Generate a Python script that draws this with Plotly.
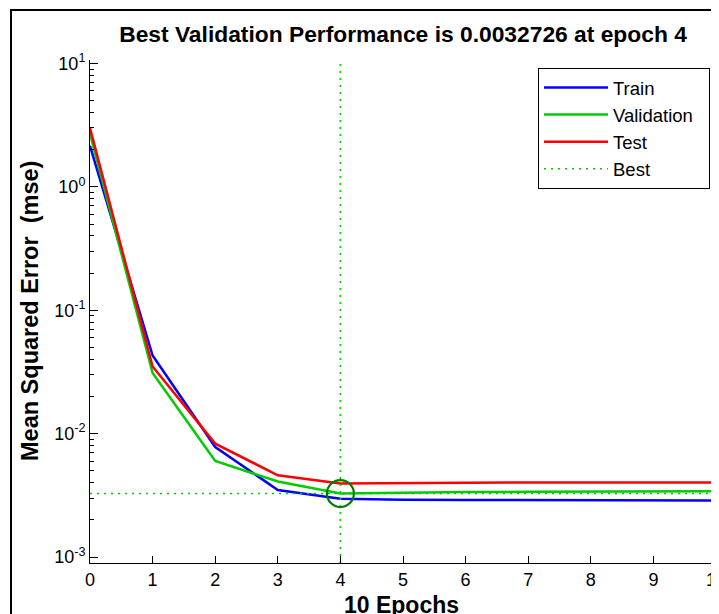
import plotly.graph_objects as go

epochs = [0, 1, 2, 3, 4, 5, 6, 7, 8, 9, 10]
train = [2.15, 0.043, 0.0078, 0.0035, 0.00297, 0.00291, 0.00290, 0.00289, 0.00288, 0.00287, 0.00287]
validation = [2.7, 0.031, 0.0060, 0.0041, 0.0032726, 0.00333, 0.00336, 0.00338, 0.00340, 0.00341, 0.00342]
test = [3.0, 0.035, 0.0083, 0.0046, 0.00395, 0.00400, 0.00401, 0.00402, 0.00402, 0.00402, 0.00402]
best_epoch = 4
best_perf = 0.0032726
y_tick_vals = [1e-3, 1e-2, 1e-1, 1e0, 1e1]
y_tick_text = ["10<sup>-3</sup>", "10<sup>-2</sup>", "10<sup>-1</sup>", "10<sup>0</sup>", "10<sup>1</sup>"]
y_log_range = [-3.048, 1.028]

minor_vals = [m * d for d in [1e-3, 1e-2, 1e-1, 1e0] for m in range(2, 10)]

# page has an 8px body margin; figure sized to fit the window
OFF = 8
W, H = 711, 606
ML, MR, MT, MB = 82, 3, 52, 51
PW = W - ML - MR
PH = H - MT - MB

def px_x(p):
    return (p - OFF - ML) / PW

def px_y(p):
    return (H - MB - (p - OFF)) / PH

FONT = "Liberation Sans, Arial, sans-serif"
VAL_C = "#00cc00"

fig = go.Figure()
fig.add_trace(go.Scatter(x=epochs, y=train, mode="lines", name="Train",
                         line=dict(color="#0000ff", width=2.5)))
fig.add_trace(go.Scatter(x=epochs, y=validation, mode="lines", name="Validation\u00a0\u00a0",
                         line=dict(color=VAL_C, width=2.5)))
fig.add_trace(go.Scatter(x=epochs, y=test, mode="lines", name="Test",
                         line=dict(color="#ff0000", width=2.5)))
fig.add_trace(go.Scatter(x=[best_epoch, best_epoch],
                         y=[10 ** y_log_range[0], 10 ** y_log_range[1]],
                         mode="lines", name="Best",
                         line=dict(color=VAL_C, width=1.6, dash="2px,5px")))
fig.add_trace(go.Scatter(x=[epochs[0], epochs[-1]], y=[best_perf, best_perf],
                         mode="lines", showlegend=False,
                         line=dict(color=VAL_C, width=1.6, dash="2px,5px")))
fig.add_trace(go.Scatter(x=[best_epoch], y=[best_perf], mode="markers", showlegend=False,
                         marker=dict(symbol="circle-open", size=27, color="#007a00",
                                     line=dict(width=2.2, color="#007a00"))))

fig.update_layout(
    width=W, height=H,
    margin=dict(l=ML, r=MR, t=MT, b=MB, autoexpand=False),
    paper_bgcolor="white", plot_bgcolor="white",
    font=dict(family=FONT, size=18, color="black"),
    title=dict(text="<b>Best Validation Performance is 0.0032726 at epoch 4</b>",
               x=0.5, xref="paper", xanchor="center",
               y=1 - (34 - OFF) / H, yref="container", yanchor="middle",
               font=dict(family=FONT, size=22.8, color="black")),
    showlegend=True,
    legend=dict(x=px_x(710), y=px_y(68), xanchor="right", yanchor="top",
                bordercolor="black", borderwidth=1, bgcolor="white",
                font=dict(family=FONT, size=18.5, color="black"),
                itemwidth=64, tracegroupgap=0),
    xaxis=dict(range=[0, 10], tickvals=epochs, ticktext=[str(e) for e in epochs],
               showline=True, linecolor="black", linewidth=1, mirror=False,
               ticks="inside", ticklen=7, tickcolor="black", showgrid=False,
               zeroline=False, tickfont=dict(size=18), automargin=False,
               ticklabeloverflow="allow"),
    yaxis=dict(type="log", range=y_log_range, tickvals=y_tick_vals, ticktext=y_tick_text,
               showline=True, linecolor="black", linewidth=1, mirror=False,
               ticks="inside", ticklen=8, tickcolor="black", showgrid=False,
               zeroline=False, tickfont=dict(size=18), automargin=False,
               minor=dict(tickmode="array", tickvals=minor_vals, ticks="inside",
                          ticklen=4, tickcolor="black", showgrid=False)),
    annotations=[
        dict(text="<b>Mean Squared Error\u00a0 (mse)</b>", textangle=-90,
             x=px_x(30), y=px_y(311), xref="paper", yref="paper",
             xanchor="center", yanchor="middle", showarrow=False,
             font=dict(family=FONT, size=23.5, color="black")),
        dict(text="<b>10 Epochs</b>",
             x=px_x(401), y=px_y(605), xref="paper", yref="paper",
             xanchor="center", yanchor="middle", showarrow=False,
             font=dict(family=FONT, size=23, color="black")),
    ],
    shapes=[
        dict(type="rect", xref="paper", yref="paper",
             x0=px_x(11), x1=px_x(740), y0=px_y(640), y1=px_y(10),
             line=dict(color="black", width=2), fillcolor="rgba(0,0,0,0)", layer="above"),
    ],
)

fig.write_html("out.html")
